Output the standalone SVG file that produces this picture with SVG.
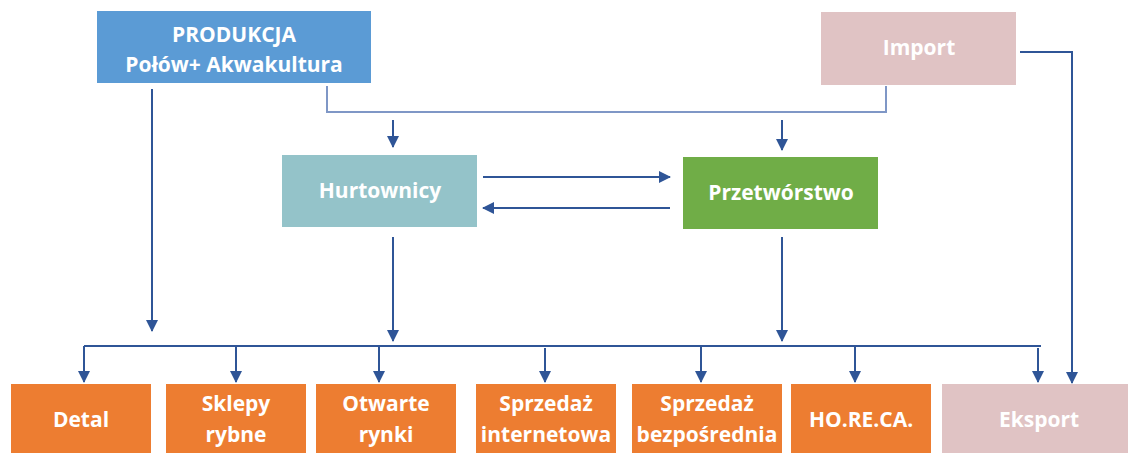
<svg xmlns="http://www.w3.org/2000/svg" width="1128" height="453" viewBox="0 0 1128 453">
<style>
.t{font-family:"Open Sans","Noto Sans","Liberation Sans",sans-serif;font-weight:700;font-size:21px;fill:#ffffff;text-anchor:middle}
.c{fill:none;stroke:#2f5597;stroke-width:2}
.cl{fill:none;stroke:#7f97c6;stroke-width:2}
</style>
<defs>
<marker id="ah" viewBox="0 0 12 12" refX="11" refY="6" markerWidth="12" markerHeight="12" markerUnits="userSpaceOnUse" orient="auto">
<path d="M0,0 L12,6 L0,12 Z" fill="#2f5597"/>
</marker>
</defs>
<rect width="1128" height="453" fill="#ffffff"/>
<g id="connectors">
<path class="c" d="M152,89 V331" marker-end="url(#ah)"/>
<path class="cl" d="M327,86 V112 H886 V86"/>
<path class="c" d="M393,120 V147" marker-end="url(#ah)"/>
<path class="c" d="M782,120 V150" marker-end="url(#ah)"/>
<path class="c" d="M1020,52 H1072 V383" marker-end="url(#ah)"/>
<path class="c" d="M483,177 H670" marker-end="url(#ah)"/>
<path class="c" d="M670,208 H483" marker-end="url(#ah)"/>
<path class="c" d="M393,237 V341" marker-end="url(#ah)"/>
<path class="c" d="M782,237 V341" marker-end="url(#ah)"/>
<path class="c" d="M84,346 H1041"/>
<path class="c" d="M84,346 V382" marker-end="url(#ah)"/>
<path class="c" d="M236,346 V382" marker-end="url(#ah)"/>
<path class="c" d="M379,346 V382" marker-end="url(#ah)"/>
<path class="c" d="M545,348 V382" marker-end="url(#ah)"/>
<path class="c" d="M701,346 V382" marker-end="url(#ah)"/>
<path class="c" d="M855,346 V382" marker-end="url(#ah)"/>
<path class="c" d="M1038,348 V382" marker-end="url(#ah)"/>
</g>
<g id="produkcja">
<rect x="97" y="11" width="274" height="72" fill="#5b9bd5"/>
<text class="t" x="234" y="42">PRODUKCJA</text>
<text class="t" x="234" y="72">Połów+ Akwakultura</text>
</g>
<g id="import">
<rect x="821" y="12" width="195" height="73" fill="#e0c3c4"/>
<text class="t" x="919" y="55">Import</text>
</g>
<g id="hurtownicy">
<rect x="282" y="155" width="195" height="72" fill="#94c3c9"/>
<text class="t" x="380" y="198">Hurtownicy</text>
</g>
<g id="przetworstwo">
<rect x="683" y="157" width="195" height="72" fill="#70ad47"/>
<text class="t" x="781" y="200">Przetwórstwo</text>
</g>
<g id="detal">
<rect x="11" y="384" width="140" height="69" fill="#ed7d31"/>
<text class="t" x="81" y="427">Detal</text>
</g>
<g id="sklepy">
<rect x="166" y="384" width="140" height="69" fill="#ed7d31"/>
<text class="t" x="236" y="411">Sklepy</text>
<text class="t" x="236" y="442">rybne</text>
</g>
<g id="otwarte">
<rect x="316" y="384" width="140" height="69" fill="#ed7d31"/>
<text class="t" x="386" y="411">Otwarte</text>
<text class="t" x="386" y="442">rynki</text>
</g>
<g id="internet">
<rect x="476" y="384" width="140" height="69" fill="#ed7d31"/>
<text class="t" x="546" y="411">Sprzedaż</text>
<text class="t" x="546" y="442">internetowa</text>
</g>
<g id="bezposrednia">
<rect x="632" y="384" width="150" height="69" fill="#ed7d31"/>
<text class="t" x="707" y="411">Sprzedaż</text>
<text class="t" x="707" y="442">bezpośrednia</text>
</g>
<g id="horeca">
<rect x="791" y="384" width="140" height="69" fill="#ed7d31"/>
<text class="t" x="861" y="427">HO.RE.CA.</text>
</g>
<g id="eksport">
<rect x="942" y="384" width="186" height="69" fill="#e0c3c4"/>
<text class="t" x="1039" y="427">Eksport</text>
</g>
</svg>
